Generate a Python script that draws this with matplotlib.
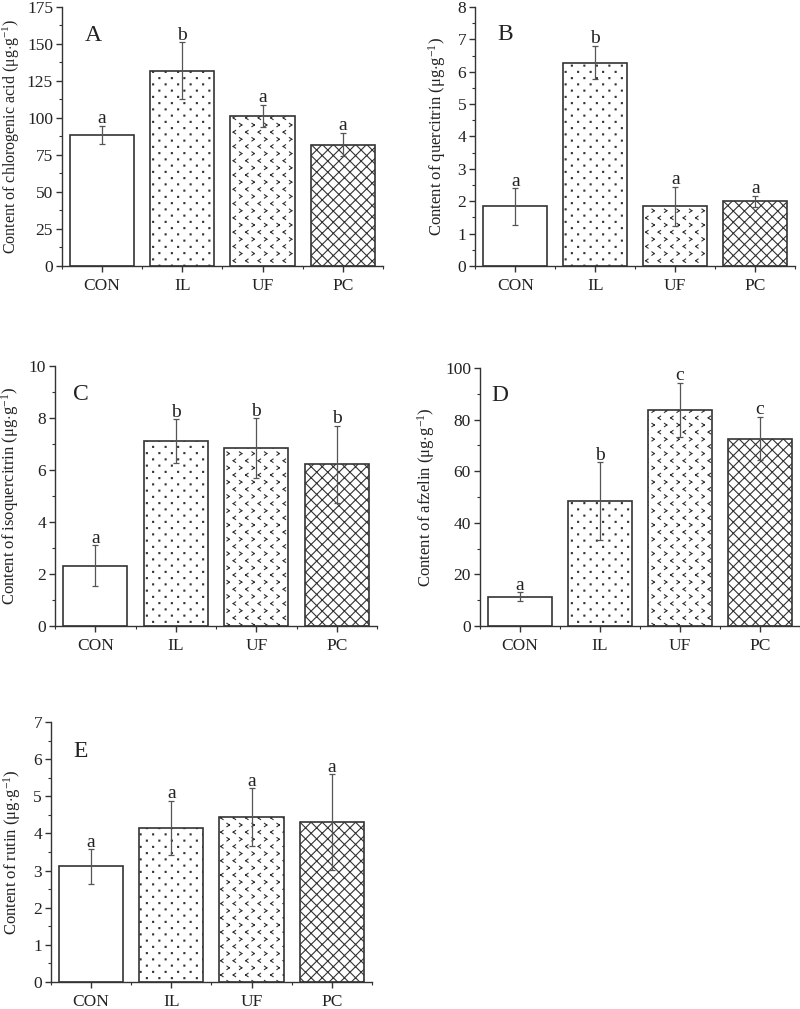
import numpy as np
import matplotlib
matplotlib.use("Agg")
import matplotlib.pyplot as plt
import matplotlib.hatch as mhatch
from matplotlib.path import Path
from matplotlib.ticker import MultipleLocator, FixedLocator

# ---- data ----
groups = ["CON", "IL", "UF", "PC"]

chlorogenic = [88.5, 132.0, 101.4, 82.0]
chlorogenic_err = [6.0, 19.0, 7.6, 8.0]
chlorogenic_sig = ["a", "b", "a", "a"]

quercitrin = [1.84, 6.28, 1.84, 2.00]
quercitrin_err = [0.56, 0.52, 0.60, 0.17]
quercitrin_sig = ["a", "b", "a", "a"]

isoquercitrin = [2.32, 7.10, 6.84, 6.22]
isoquercitrin_err = [0.78, 0.85, 1.14, 1.48]
isoquercitrin_sig = ["a", "b", "b", "b"]

afzelin = [11.4, 48.4, 83.7, 72.6]
afzelin_err = [1.7, 15.0, 10.5, 8.4]
afzelin_sig = ["a", "b", "c", "c"]

rutin = [3.11, 4.15, 4.44, 4.30]
rutin_err = [0.46, 0.73, 0.77, 1.29]
rutin_sig = ["a", "a", "a", "a"]


# ---- custom fill patterns: sparse dots ('.') and chevrons ('o') ----
class DotHatch(mhatch.HatchPatternBase):
    def __init__(self, hatch, density):
        n = hatch.count('.')
        self.cols = 8 * n
        self.rows = 16 * n
        self.num_vertices = 5 * self.cols * self.rows

    def set_vertices_and_codes(self, vertices, codes):
        r = 0.005
        k = 0
        for i in range(self.rows):
            y = (i + 0.5) / self.rows
            for j in range(self.cols):
                x = (j + 0.25 + 0.5 * (i % 2)) / self.cols
                vertices[k:k + 5] = [[x - r, y - r], [x + r, y - r], [x + r, y + r],
                                     [x - r, y + r], [x - r, y - r]]
                codes[k:k + 5] = [Path.MOVETO, Path.LINETO, Path.LINETO,
                                  Path.LINETO, Path.CLOSEPOLY]
                k += 5


class ChevronHatch(mhatch.HatchPatternBase):
    def __init__(self, hatch, density):
        n = hatch.count('o')
        self.cols = 8 * n
        self.rows = 14 * n
        self.num_vertices = 4 * self.cols * self.rows

    def set_vertices_and_codes(self, vertices, codes):
        w = 0.012
        h = 0.017
        k = 0
        for i in range(self.rows):
            y = (i + 0.5) / self.rows
            s = 1 if i % 2 == 0 else -1
            for j in range(self.cols):
                x = (j + 0.25 + 0.5 * (i % 2)) / self.cols
                vertices[k:k + 4] = [[x - s * w, y + h], [x + s * w, y],
                                     [x + s * w, y], [x - s * w, y - h]]
                codes[k:k + 4] = [Path.MOVETO, Path.LINETO, Path.MOVETO, Path.LINETO]
                k += 4


mhatch._hatch_types = [mhatch.HorizontalHatch, mhatch.VerticalHatch,
                       mhatch.NorthEastHatch, mhatch.SouthEastHatch,
                       DotHatch, ChevronHatch]

plt.rcParams['font.family'] = ['Liberation Serif', 'DejaVu Serif']
plt.rcParams['mathtext.fontset'] = 'custom'
plt.rcParams['mathtext.rm'] = 'Liberation Serif'
plt.rcParams['mathtext.it'] = 'Liberation Serif:italic'
plt.rcParams['hatch.linewidth'] = 0.8
plt.rcParams['hatch.color'] = '#333333'

edge = '#333333'
hatches = ['', '.', 'o', 'xxx']

fig = plt.figure(figsize=(8, 10.09), dpi=100)


def panel(rect, values, errs, sig, ymax, major, ylabel, tag, label_x, tag_xy, lab_size=12):
    ax = fig.add_axes(rect)
    x = np.arange(len(groups))
    bars = ax.bar(x, values, width=0.8, color='white', edgecolor=edge,
                  linewidth=1.2, zorder=2)
    for b, h in zip(bars, hatches):
        b.set_hatch(h)
    ax.errorbar(x, values, yerr=errs, fmt='none', ecolor='#555555',
                elinewidth=0.9, capsize=2.5, capthick=0.9, zorder=3)
    for xi, v, e, s in zip(x, values, errs, sig):
        ax.annotate(s, (xi, v + e), xytext=(0, -1), textcoords='offset points',
                    ha='center', va='bottom', fontsize=14, color='#222222')
    ax.set_xlim(-0.5, 3.5)
    ax.set_ylim(0, ymax)
    ax.yaxis.set_major_locator(MultipleLocator(major))
    ax.yaxis.set_minor_locator(MultipleLocator(major / 2))
    ax.set_xticks(x)
    ax.set_xticklabels(groups)
    ax.xaxis.set_minor_locator(FixedLocator([-0.5, 0.5, 1.5, 2.5, 3.5]))
    for side in ['top', 'right']:
        ax.spines[side].set_visible(False)
    for side in ['left', 'bottom']:
        ax.spines[side].set_color(edge)
        ax.spines[side].set_linewidth(1.0)
    ax.tick_params(which='major', direction='out', length=4.5, width=1.0,
                   color=edge, labelsize=12.5, labelcolor='#222222', pad=2)
    ax.tick_params(which='minor', direction='out', length=2.5, width=0.8, color=edge)
    ax.tick_params(axis='x', which='major', pad=4)
    ax.set_ylabel(ylabel, fontsize=lab_size, color='#222222')
    ax.yaxis.set_label_coords(label_x, 0.5)
    ax.text(tag_xy[0], tag_xy[1], tag, transform=ax.transAxes, fontsize=17,
            ha='left', va='top', color='#222222')
    return ax


unit = r" ($\mathrm{\mu g{\cdot}g^{-1}}$)"

panel([0.0775, 0.7364, 0.401, 0.2567], chlorogenic, chlorogenic_err, chlorogenic_sig,
      175, 25, "Content of chlorogenic acid" + unit, "A", -0.125, (0.07, 0.93), 11.5)
panel([0.594, 0.7364, 0.4, 0.2567], quercitrin, quercitrin_err, quercitrin_sig,
      8, 1, "Content of quercitrin" + unit, "B", -0.085, (0.068, 0.935))
panel([0.0688, 0.3796, 0.4025, 0.2577], isoquercitrin, isoquercitrin_err, isoquercitrin_sig,
      10, 2, "Content of isoquercitrin" + unit, "C", -0.105, (0.055, 0.93))
panel([0.6, 0.3796, 0.4, 0.2557], afzelin, afzelin_err, afzelin_sig,
      100, 20, "Content of afzelin" + unit, "D", -0.134, (0.037, 0.935))
panel([0.0638, 0.0268, 0.401, 0.2577], rutin, rutin_err, rutin_sig,
      7, 1, "Content of rutin" + unit, "E", -0.087, (0.07, 0.925))

fig.savefig("out.png", dpi=100)
